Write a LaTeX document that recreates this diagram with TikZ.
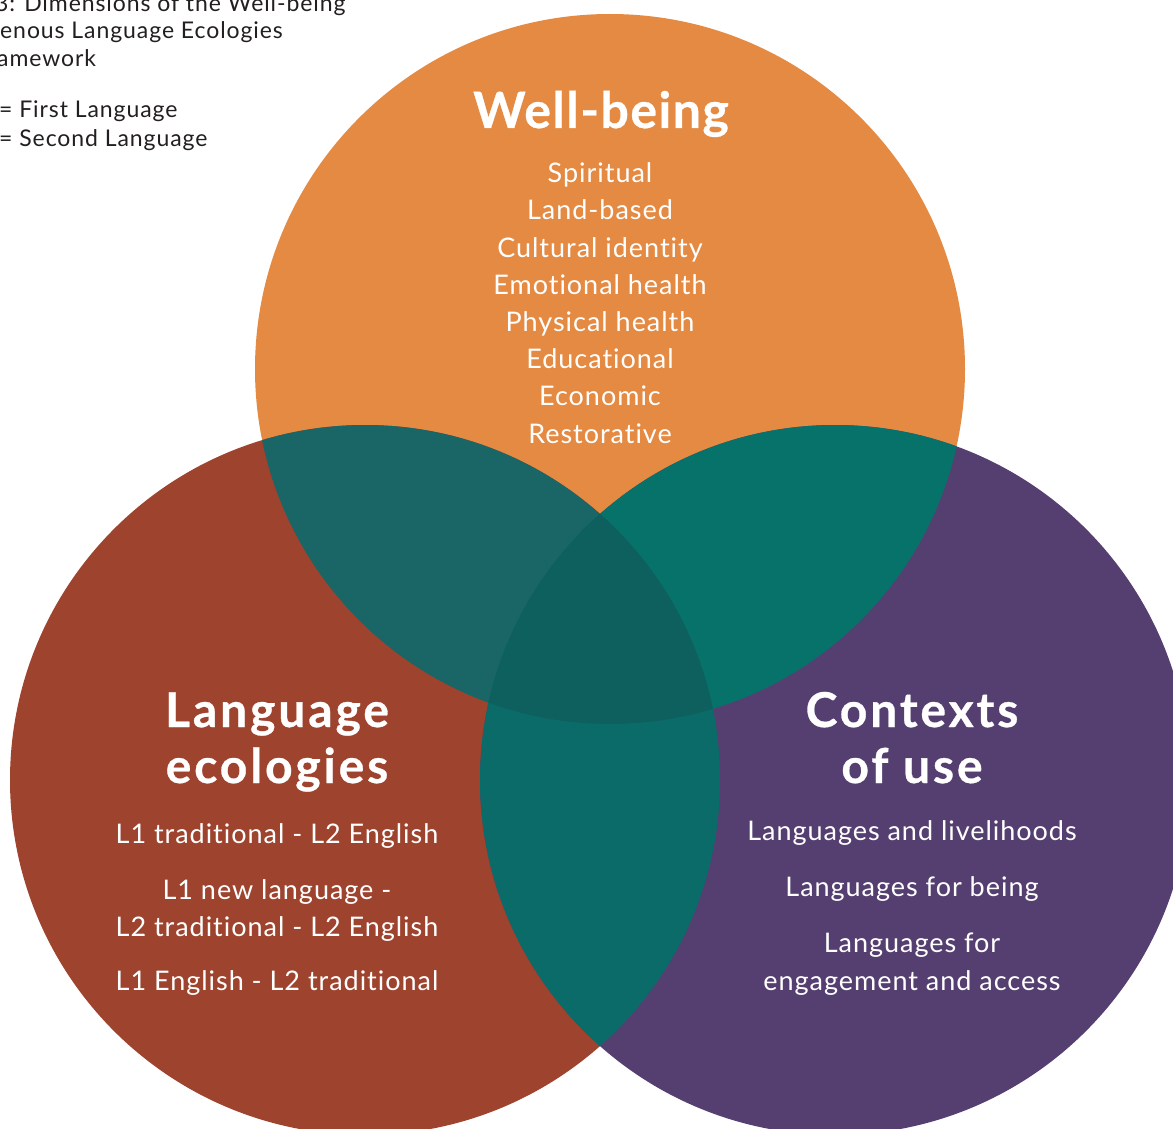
\documentclass[tikz,border=0pt]{standalone}
\usepackage{fontspec}
\setmainfont[Ligatures=NoCommon]{Lato}
\definecolor{wellorange}{RGB}{228,138,66}
\definecolor{ecorust}{RGB}{158,67,46}
\definecolor{ctxpurple}{RGB}{85,63,112}
\definecolor{lensTL}{RGB}{26,101,101}
\definecolor{lensTR}{RGB}{7,114,106}
\definecolor{lensB}{RGB}{11,107,105}
\definecolor{lensC}{RGB}{14,96,95}
\definecolor{captiongray}{RGB}{35,31,32}
\begin{document}
\begin{tikzpicture}[x=1pt,y=-1pt]
                    \tikzstyle{heading}=[text=white,inner sep=0pt,align=center,font=\fontsize{48}{56}\selectfont\bfseries\addfontfeatures{LetterSpace=6,FakeBold=0.6}]
                    \tikzstyle{items}=[text=white,inner sep=0pt,align=center,font=\fontsize{27}{37.2}\selectfont\addfontfeatures{LetterSpace=3.6}]
                    \tikzstyle{caption}=[text=captiongray,inner sep=0pt,anchor=base west,font=\fontsize{23}{28}\selectfont\addfontfeatures{LetterSpace=4}]
                    \useasboundingbox (0,0) rectangle (1173,1129);
                    \clip (0,0) rectangle (1173,1129);
                    \fill[wellorange] (610,369) circle[radius=355pt];
                    \fill[ecorust] (365,780) circle[radius=355pt];
                    \fill[ctxpurple] (835,780) circle[radius=355pt];
                    \begin{scope}
                    \clip (610,369) circle[radius=355pt];
                    \fill[lensTL] (365,780) circle[radius=355pt];
                    \fill[lensTR] (835,780) circle[radius=355pt];
                    \end{scope}
                    \begin{scope}
                    \clip (365,780) circle[radius=355pt];
                    \fill[lensB] (835,780) circle[radius=355pt];
                    \clip (835,780) circle[radius=355pt];
                    \fill[lensC] (610,369) circle[radius=355pt];
                    \end{scope}
                    \node[caption] (cap1) at (-5,12) {3: Dimensions of the Well-being};
                    \node[caption] (cap2) at (0,39) {enous Language Ecologies};
                    \node[caption] (cap3) at (-3,67) {amework};
                    \node[caption] (cap4) at (-1,118) {= First Language};
                    \node[caption] (cap5) at (-1,147) {= Second Language};
                    \node[heading,anchor=base,font=\fontsize{50}{56}\selectfont\bfseries\addfontfeatures{LetterSpace=3,FakeBold=0.6}] (wellbeing) at (601,128) {Well-being};
                    \node[items,anchor=base] (welllist) at (600,443) {Spiritual\\Land-based\\Cultural identity\\Emotional health\\Physical health\\Educational\\Economic\\Restorative};
                    \node[heading,anchor=base] (ecologies) at (277,783) {Language\\ecologies};
                    \node[items,anchor=base] (ecolist) at (277,990) {L1 traditional - L2 English\\[19pt]L1 new language -\\L2 traditional - L2 English\\[16pt]L1 English - L2 traditional};
                    \node[heading,anchor=base] (contexts) at (912,783) {Contexts\\of use};
                    \node[items,anchor=base] (ctxlist) at (912,990) {Languages and livelihoods\\[19pt]Languages for being\\[19pt]Languages for\\engagement and access};
                \end{tikzpicture}
\end{document}
